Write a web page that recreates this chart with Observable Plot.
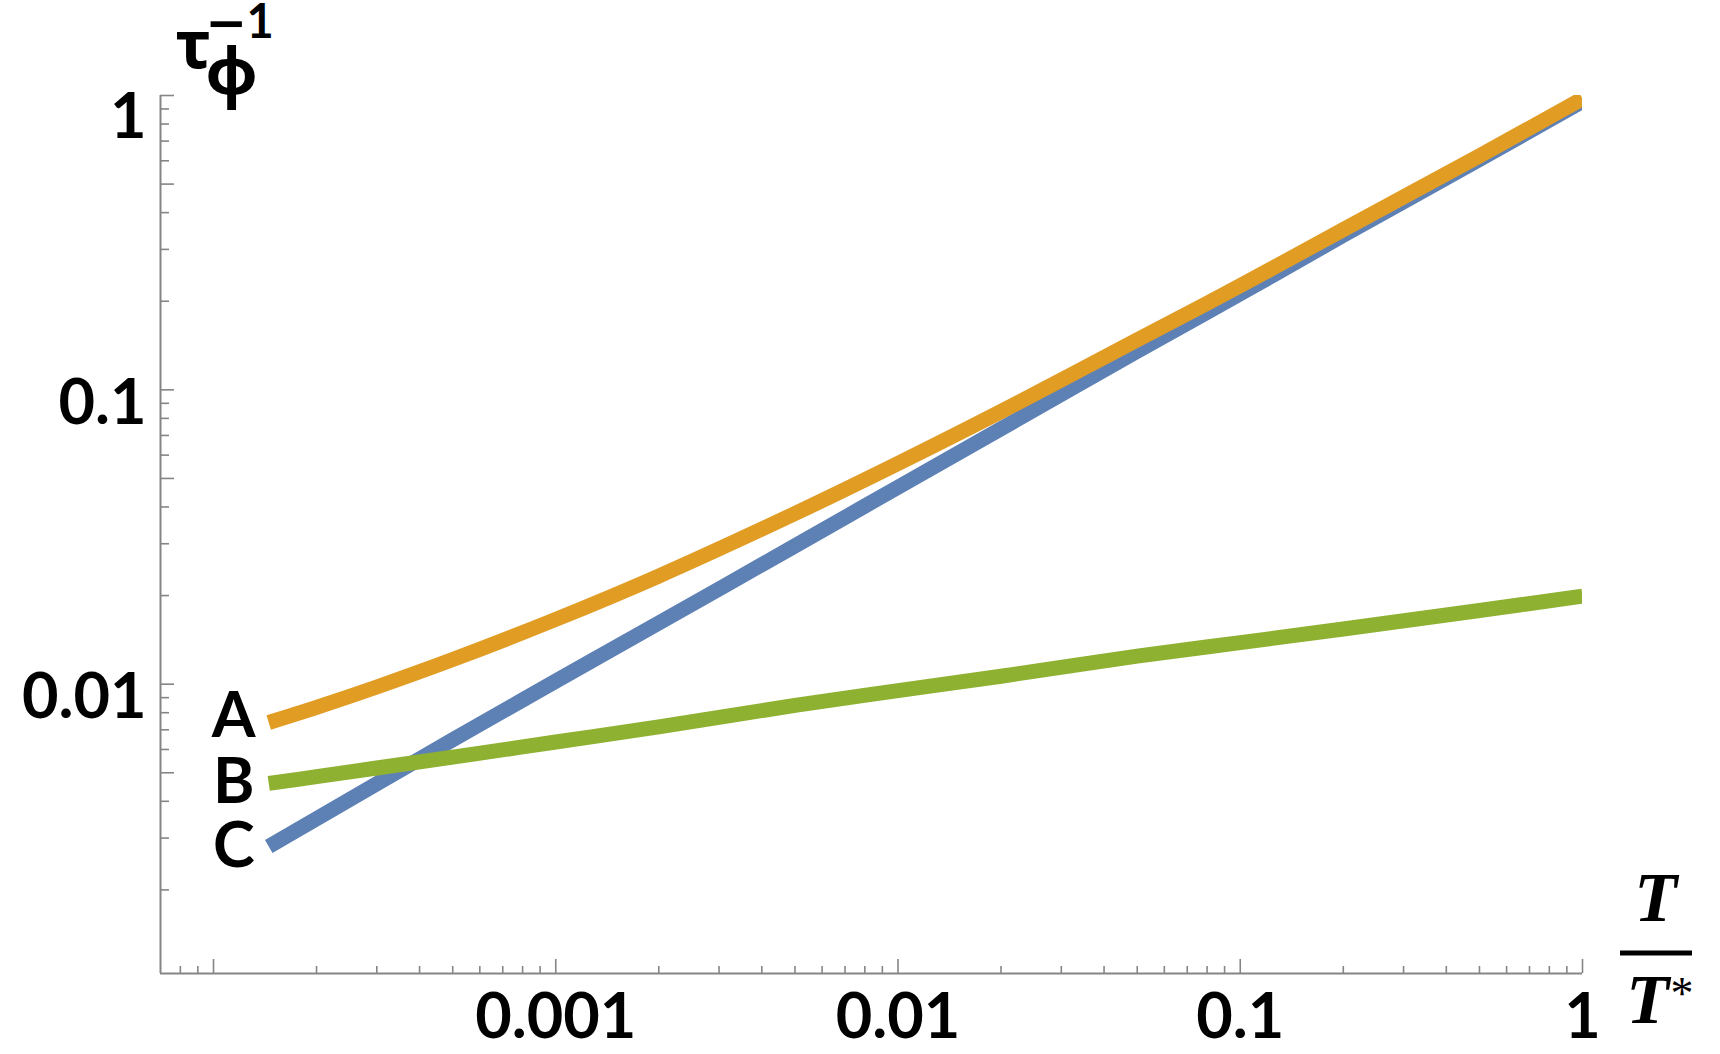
<!DOCTYPE html>
<html>
<head>
<meta charset="utf-8">
<script src="https://cdn.jsdelivr.net/npm/d3@7"></script>
<script src="https://cdn.jsdelivr.net/npm/@observablehq/plot@0.6"></script>
<style>
  html, body { margin: 0; padding: 0; background: #fff; }
  #chart { width: 1720px; height: 1054px; }
</style>
</head>
<body>
<div id="chart"></div>
<script>
// ---- data ----
const temperature = [0.000145, 0.0002, 0.0003, 0.0005, 0.001, 0.002, 0.005, 0.01, 0.02, 0.05, 0.1, 0.2, 0.5, 1];
const rateA = [0.00741, 0.00834, 0.00978, 0.01212, 0.0166, 0.0233, 0.0380, 0.0562, 0.0844, 0.1477, 0.2258, 0.3504, 0.6238, 0.975];
const rateB = [0.00460, 0.00485, 0.00519, 0.00565, 0.00636, 0.00716, 0.00847, 0.00951, 0.01064, 0.01245, 0.01384, 0.01540, 0.01780, 0.0199];
const rateC = [0.00281, 0.00349, 0.00459, 0.00647, 0.01024, 0.01614, 0.0295, 0.0467, 0.0738, 0.1352, 0.212, 0.335, 0.606, 0.955];
const seriesNames = ["A", "B", "C"];

const xDomain = [0.00007, 1];
const yDomain = [0.00104, 1];
const xTickLabels = [0.001, 0.01, 0.1, 1];
const yTickLabels = [0.01, 0.1];
const yTopLabel = [1];
const xMajorTicks = [0.0001, 0.001, 0.01, 0.1, 1];
const xMinorTicks = [0.00008, 0.00009,
  0.0002, 0.0003, 0.0004, 0.0005, 0.0006, 0.0007, 0.0008, 0.0009,
  0.002, 0.003, 0.004, 0.005, 0.006, 0.007, 0.008, 0.009,
  0.02, 0.03, 0.04, 0.05, 0.06, 0.07, 0.08, 0.09,
  0.2, 0.3, 0.4, 0.5, 0.6, 0.7, 0.8, 0.9];
const yMajorTicks = [0.005, 0.01, 0.05, 0.1, 0.5, 1];
const yMinorTicks = [0.002, 0.003, 0.004, 0.006, 0.007, 0.008, 0.009,
  0.02, 0.03, 0.04, 0.06, 0.07, 0.08, 0.09,
  0.2, 0.3, 0.4, 0.6, 0.7, 0.8, 0.9];

// ---- styling ----
const W = 1720, H = 1054;
const mL = 160, mR = 138, mT = 95, mB = 81;
const frameW = W - mL - mR;
const frameH = H - mT - mB;
const axisColor = "#858585";
const labelFont = "Lato, 'Open Sans', sans-serif";
const greekFont = "'Noto Sans', 'DejaVu Sans', sans-serif";
const serifFont = "'Liberation Serif', 'DejaVu Serif', serif";
const colors = {A: "#E19C24", B: "#8FB131", C: "#5E81B5"};
const labelDy = {A: -6, B: -1, C: 0};

const values = {A: rateA, B: rateB, C: rateC};
const rows = seriesNames.flatMap(name => temperature.map((t, i) => ({series: name, t, v: values[name][i]})));
const seriesRows = name => rows.filter(d => d.series === name);

const fmt = d => String(d);
const drawOrder = ["C", "B", "A"];
const bold = {fontWeight: "bold", fill: "#000"};

const plot = Plot.plot({
  width: W, height: H,
  marginLeft: mL, marginRight: mR, marginTop: mT, marginBottom: mB,
  style: {background: "#fff", fontFamily: labelFont, overflow: "visible"},
  x: {type: "log", domain: xDomain},
  y: {type: "log", domain: yDomain},
  marks: [
    // axis lines
    Plot.ruleX([xDomain[0]], {x: d => d, stroke: axisColor, strokeWidth: 2}),
    Plot.ruleY([yDomain[0]], {y: d => d, stroke: axisColor, strokeWidth: 2}),
    // inward ticks
    Plot.tickX(xMajorTicks, {x: d => d, stroke: axisColor, strokeWidth: 1.6, insetTop: frameH - 14}),
    Plot.tickX(xMinorTicks, {x: d => d, stroke: axisColor, strokeWidth: 1.6, insetTop: frameH - 7}),
    Plot.tickY(yMajorTicks, {y: d => d, stroke: axisColor, strokeWidth: 1.6, insetRight: frameW - 14}),
    Plot.tickY(yMinorTicks, {y: d => d, stroke: axisColor, strokeWidth: 1.6, insetRight: frameW - 9}),
    // tick labels
    Plot.axisX(xTickLabels, {tickSize: 0, tickPadding: 20, tickFormat: fmt, label: null,
      fontSize: 63, fontFamily: labelFont, ...bold}),
    Plot.axisY(yTickLabels, {tickSize: 0, tickPadding: 14, tickFormat: fmt, label: null, dy: 13.5,
      fontSize: 63, fontFamily: labelFont, ...bold}),
    Plot.axisY(yTopLabel, {tickSize: 0, tickPadding: 14, tickFormat: fmt, label: null, dy: 22.5,
      fontSize: 63, fontFamily: labelFont, ...bold}),
    // curves
    ...drawOrder.map(name => Plot.line(seriesRows(name), {
      x: "t", y: "v", stroke: colors[name], strokeWidth: 15,
      curve: "catmull-rom", clip: true, strokeLinecap: "butt", strokeLinejoin: "round"
    })),
    // series labels next to the start of each curve
    ...seriesNames.map(name => Plot.text([seriesRows(name)[0]], {
      x: "t", y: "v", text: d => d.series, dx: -35, dy: labelDy[name],
      textAnchor: "middle", lineAnchor: "middle",
      fontSize: 63, fontFamily: labelFont, ...bold
    })),
    // y axis title: tau_phi^-1
    Plot.text(["τ"], {text: d => d, frameAnchor: "top-left", dx: 15, dy: -28,
      textAnchor: "start", lineAnchor: "bottom", fontSize: 66, fontFamily: greekFont, ...bold}),
    Plot.text(["φ"], {text: d => d, frameAnchor: "top-left", dx: 45, dy: -2,
      textAnchor: "start", lineAnchor: "bottom", fontSize: 64, fontFamily: greekFont, ...bold}),
    Plot.text(["−"], {text: d => d, frameAnchor: "top-left", dx: 45, dy: -56,
      textAnchor: "start", lineAnchor: "bottom", fontSize: 50, fontFamily: "'DejaVu Sans', sans-serif", ...bold}),
    Plot.text(["1"], {text: d => d, frameAnchor: "top-left", dx: 86, dy: -58,
      textAnchor: "start", lineAnchor: "bottom", fontSize: 47, fontFamily: labelFont, ...bold}),
    // x axis title: T / T*
    Plot.text(["T"], {text: d => d, frameAnchor: "bottom-right", dx: 73, dy: -53,
      textAnchor: "middle", lineAnchor: "bottom", fontSize: 70, fontStyle: "italic", fontFamily: serifFont, ...bold}),
    Plot.text(["T"], {text: d => d, frameAnchor: "bottom-right", dx: 65, dy: 49,
      textAnchor: "middle", lineAnchor: "bottom", fontSize: 70, fontStyle: "italic", fontFamily: serifFont, ...bold}),
    Plot.text(["*"], {text: d => d, frameAnchor: "bottom-right", dx: 88, dy: 35,
      textAnchor: "start", lineAnchor: "bottom", fontSize: 46, fontFamily: serifFont, fill: "#000"})
  ]
});

// fraction bar of the x-axis title
d3.select(plot).append("line")
  .attr("x1", W - mR + 38).attr("x2", W - mR + 110)
  .attr("y1", H - mB - 20).attr("y2", H - mB - 20)
  .attr("stroke", "#000").attr("stroke-width", 5);

document.getElementById("chart").appendChild(plot);
</script>
</body>
</html>
